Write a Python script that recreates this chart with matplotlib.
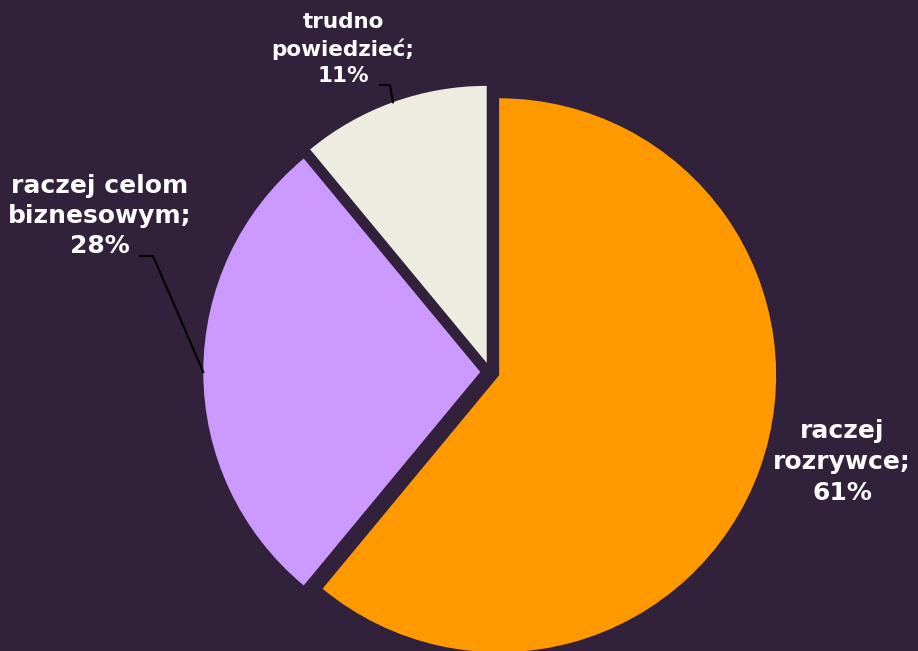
import numpy as np
import matplotlib.pyplot as plt

labels = ["raczej\nrozrywce;\n61%", "raczej celom\nbiznesowym;\n28%", "trudno\npowiedzieć;\n11%"]
values = [61, 28, 11]
colors = ["#FF9900", "#CC99FF", "#EEECE1"]
bg = "#32213A"

W, H = 918, 651
cx, cy, rpx = 490, 372, 277  # pie centre and radius in pixels


def px(x, y):
    return (x - cx) / rpx, (cy - y) / rpx


fig = plt.figure(figsize=(W / 100, H / 100), dpi=100, facecolor=bg)
ax = fig.add_axes([0, 0, 1, 1])
ax.set_facecolor(bg)

wedges, _ = ax.pie(values, colors=colors, startangle=90, counterclock=False,
                   explode=[0.035, 0.035, 0.035], radius=1.0,
                   wedgeprops=dict(linewidth=0))

x0, y0 = px(0, H)
x1, y1 = px(W, 0)
ax.set_xlim(x0, x1)
ax.set_ylim(y0, y1)
ax.set_aspect("equal")
ax.axis("off")

# label centres (pixels), font sizes, leader line start/elbow (None = no leader)
label_pos = [(842, 462), (100, 216), (343, 49)]
label_size = [18, 18, 15.5]
label_spacing = [1.36, 1.3, 1.36]
leader_start = [None, (140, 256), (380, 85)]
leader_elbow = [None, (153, 256), (390, 85)]

for w, lab, pos, fs, lsp, ls, le in zip(wedges, labels, label_pos, label_size,
                                        label_spacing, leader_start, leader_elbow):
    ax.text(*px(*pos), lab, ha="center", va="center", color="white",
            fontsize=fs, fontweight="bold", family="DejaVu Sans",
            linespacing=lsp)
    if ls is not None:
        mid = np.deg2rad((w.theta1 + w.theta2) / 2)
        ex = w.center[0] + w.r * np.cos(mid)
        ey = w.center[1] + w.r * np.sin(mid)
        sx, sy = px(*ls)
        bx, by = px(*le)
        ax.plot([sx, bx, ex], [sy, by, ey], color="black", lw=1.5)

fig.savefig("out.png", dpi=100, facecolor=bg)
